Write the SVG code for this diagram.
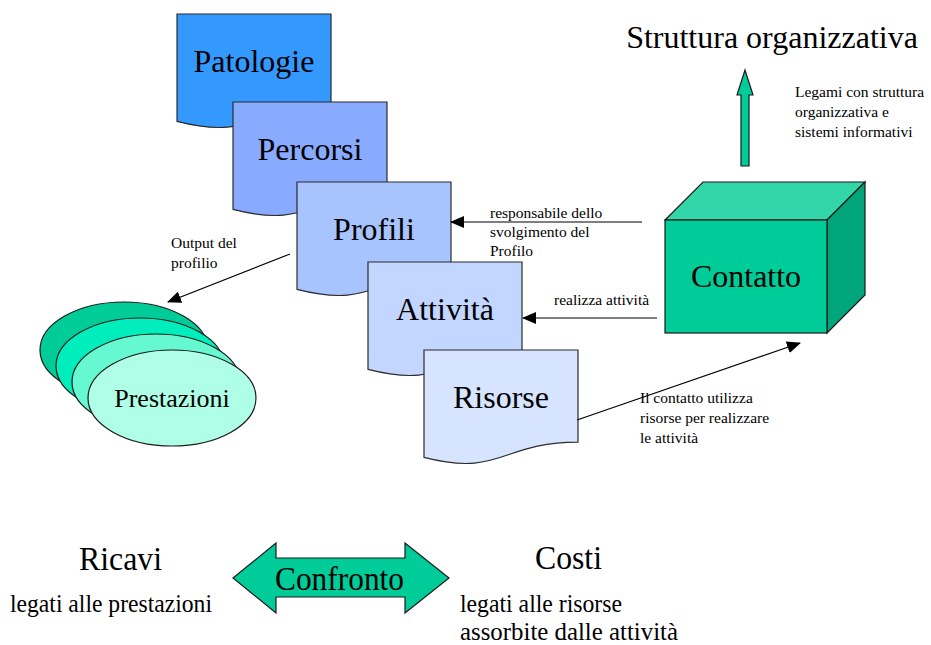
<svg xmlns="http://www.w3.org/2000/svg" width="931" height="645" viewBox="0 0 931 645">
  <style>
    .doc { stroke: #2b2b2b; stroke-width: 1.2; }
    .big { font-family: "Liberation Serif", "Times New Roman", serif; font-size: 32px; fill: #000; text-anchor: middle; }
    .small { font-family: "Liberation Serif", "Times New Roman", serif; font-size: 15.5px; fill: #000; }
    .bottom { font-family: "Liberation Serif", "Times New Roman", serif; fill: #000; }
    .conn { stroke: #000; stroke-width: 1.2; fill: none; marker-end: url(#arrow); }
    .solid { stroke: #1a1a1a; stroke-width: 1.2; }
  </style>
  <defs>
    <marker id="arrow" markerUnits="userSpaceOnUse" markerWidth="14" markerHeight="12" refX="13" refY="6" orient="auto">
      <path d="M0,0 L14,6 L0,12 Z" fill="#000"/>
    </marker>
  </defs>
  <rect width="931" height="645" fill="#fff"/>

  <!-- stacked document shapes -->
  <g id="patologie">
    <path class="doc" fill="#3399FF" d="M177,14 H331 V106.2 C254,106.2 254,141.3 177,121.4 Z"/>
    <text class="big" x="254" y="72">Patologie</text>
  </g>
  <g id="percorsi">
    <path class="doc" fill="#88AAFF" d="M233,102 H387 V194.2 C310,194.2 310,229.3 233,209.4 Z"/>
    <text class="big" x="310" y="160">Percorsi</text>
  </g>
  <g id="profili">
    <path class="doc" fill="#A8C4FF" d="M297,182 H451 V274.2 C374,274.2 374,309.3 297,289.4 Z"/>
    <text class="big" x="374" y="240">Profili</text>
  </g>
  <g id="attivita">
    <path class="doc" fill="#C2D6FF" d="M368,262 H522 V354.2 C445,354.2 445,389.3 368,369.4 Z"/>
    <text class="big" x="445" y="320">Attività</text>
  </g>
  <g id="risorse">
    <path class="doc" fill="#D6E4FF" d="M424,350 H578 V442.2 C501,442.2 501,477.3 424,457.4 Z"/>
    <text class="big" x="501" y="408">Risorse</text>
  </g>

  <!-- stacked ellipses -->
  <g id="prestazioni">
    <ellipse class="solid" cx="124" cy="350" rx="84" ry="48" fill="#00CC99"/>
    <ellipse class="solid" cx="140" cy="366" rx="84" ry="48" fill="#00EEBB"/>
    <ellipse class="solid" cx="156" cy="382" rx="84" ry="48" fill="#66F8D0"/>
    <ellipse class="solid" cx="172" cy="398" rx="84" ry="48" fill="#AEFFE6"/>
    <text class="big" x="172" y="407" style="font-size:26px">Prestazioni</text>
  </g>

  <!-- 3D box -->
  <g id="contatto">
    <polygon class="solid" fill="#33D6A8" points="665,220 703,182 865,182 827,220"/>
    <polygon class="solid" fill="#00A67A" points="827,220 865,182 865,295 827,333"/>
    <rect class="solid" x="665" y="220" width="162" height="113" fill="#00CC99"/>
    <text class="big" x="746" y="287">Contatto</text>
  </g>

  <g id="struttura">
    <text class="big" x="772" y="48">Struttura organizzativa</text>
  </g>

  <!-- connectors -->
  <g id="connectors">
    <line class="conn" x1="642" y1="222" x2="451" y2="222"/>
    <line class="conn" x1="657" y1="318" x2="523" y2="318"/>
    <line class="conn" x1="290" y1="254" x2="168" y2="302"/>
    <line class="conn" x1="577" y1="420" x2="800" y2="343"/>
    <polygon class="solid" fill="#00CC99" points="741,166 749,166 749,95 753,95 745,70 737,95 741,95"/>
  </g>

  <!-- connector labels -->
  <g id="labels">
    <text class="small" x="490" y="218">responsabile dello</text>
    <text class="small" x="490" y="237">svolgimento del</text>
    <text class="small" x="490" y="256">Profilo</text>
    <text class="small" x="554" y="305">realizza attività</text>
    <text class="small" x="171" y="248">Output del</text>
    <text class="small" x="171" y="268">profilio</text>
    <text class="small" x="640" y="403">Il contatto utilizza</text>
    <text class="small" x="640" y="423">risorse per realizzare</text>
    <text class="small" x="640" y="443">le attività</text>
    <text class="small" x="795" y="97">Legami con struttura</text>
    <text class="small" x="795" y="117">organizzativa e</text>
    <text class="small" x="795" y="137">sistemi informativi</text>
  </g>

  <!-- revenue / cost comparison -->
  <g id="confronto">
    <polygon class="solid" fill="#00CC99" points="233,578 276,543 276,558 405,558 405,543 449,578 405,613 405,597 276,597 276,613"/>
    <text class="bottom" x="275" y="590" font-size="34" textLength="129" lengthAdjust="spacingAndGlyphs">Confronto</text>
  </g>
  <g id="ricavi">
    <text class="bottom" x="79" y="570" font-size="33" textLength="83" lengthAdjust="spacingAndGlyphs">Ricavi</text>
    <text class="bottom" x="10" y="612" font-size="26" textLength="202" lengthAdjust="spacingAndGlyphs">legati alle prestazioni</text>
  </g>
  <g id="costi">
    <text class="bottom" x="535" y="569" font-size="33" textLength="67" lengthAdjust="spacingAndGlyphs">Costi</text>
    <text class="bottom" x="460" y="612" font-size="26" textLength="162" lengthAdjust="spacingAndGlyphs">legati alle risorse</text>
    <text class="bottom" x="460" y="640" font-size="26" textLength="218" lengthAdjust="spacingAndGlyphs">assorbite dalle attività</text>
  </g>
</svg>
